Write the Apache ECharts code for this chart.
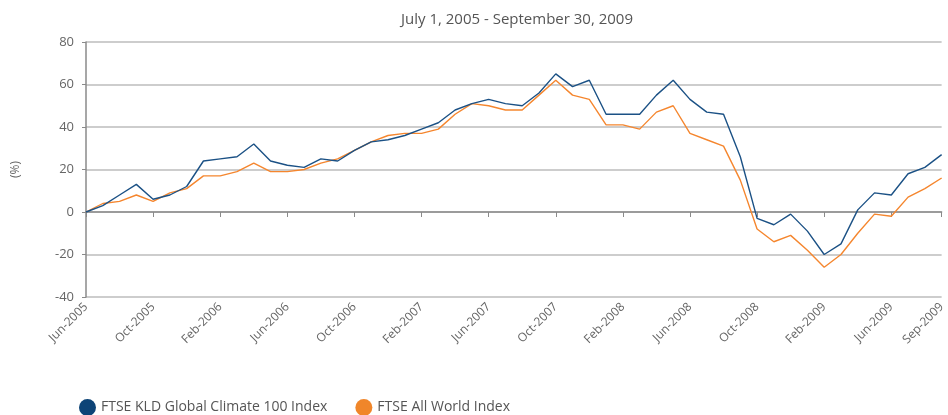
<!DOCTYPE html>
<html>
<head>
<meta charset="utf-8">
<script src="https://cdn.jsdelivr.net/npm/echarts@6/dist/echarts.min.js"></script>
<style>
  html, body { margin: 0; padding: 0; background: #fff; }
  #chart { width: 948px; height: 415px; }
</style>
</head>
<body>
<div id="chart"></div>
<script>
// Monthly cumulative returns (%), Jun-2005 to Sep-2009
const months = [
  'Jun-2005','Jul-2005','Aug-2005','Sep-2005','Oct-2005','Nov-2005','Dec-2005',
  'Jan-2006','Feb-2006','Mar-2006','Apr-2006','May-2006','Jun-2006','Jul-2006',
  'Aug-2006','Sep-2006','Oct-2006','Nov-2006','Dec-2006','Jan-2007','Feb-2007',
  'Mar-2007','Apr-2007','May-2007','Jun-2007','Jul-2007','Aug-2007','Sep-2007',
  'Oct-2007','Nov-2007','Dec-2007','Jan-2008','Feb-2008','Mar-2008','Apr-2008',
  'May-2008','Jun-2008','Jul-2008','Aug-2008','Sep-2008','Oct-2008','Nov-2008',
  'Dec-2008','Jan-2009','Feb-2009','Mar-2009','Apr-2009','May-2009','Jun-2009',
  'Jul-2009','Aug-2009','Sep-2009'
];

const climate100 = [
  0, 3, 8, 13, 6, 8, 12, 24, 25, 26, 32, 24, 22, 21, 25, 24, 29, 33, 34, 36,
  39, 42, 48, 51, 53, 51, 50, 56, 65, 59, 62, 46, 46, 46, 55, 62, 53, 47, 46, 26,
  -3, -6, -1, -9, -20, -15, 1, 9, 8, 18, 21, 27
];

const allWorld = [
  0, 4, 5, 8, 5, 9, 11, 17, 17, 19, 23, 19, 19, 20, 23, 25, 29, 33, 36, 37,
  37, 39, 46, 51, 50, 48, 48, 55, 62, 55, 53, 41, 41, 39, 47, 50, 37, 34, 31, 15,
  -8, -14, -11, -18, -26, -20, -10, -1, -2, 7, 11, 16
];

const seriesNames = ['FTSE KLD Global Climate 100 Index', 'FTSE All World Index'];
const titleText = 'July 1, 2005 - September 30, 2009';
const yAxisName = '(%)';

const FONT = '"Open Sans", "Noto Sans", sans-serif';
const lastIdx = months.length - 1;
const showTick = (i) => i % 4 === 0 || i === lastIdx;

const chart = echarts.init(document.getElementById('chart'), null, { renderer: 'canvas' });
chart.setOption({
  animation: false,
  backgroundColor: '#ffffff',
  title: {
    text: titleText,
    left: 512,
    textAlign: 'center',
    top: 7,
    textStyle: { fontFamily: FONT, fontSize: 15, fontWeight: 'normal', color: '#555' }
  },
  legend: {
    left: 74,
    top: 394,
    icon: 'circle',
    itemWidth: 17,
    itemHeight: 17,
    itemGap: 28,
    textStyle: { fontFamily: FONT, fontSize: 14, color: '#555' },
    data: seriesNames
  },
  grid: { left: 86, right: 4, top: 42, bottom: 118, containLabel: false },
  xAxis: {
    type: 'category',
    data: months,
    boundaryGap: false,
    axisLine: { lineStyle: { color: '#8a8a8a', width: 1.5 } },
    axisTick: { interval: (i) => showTick(i), length: 5, lineStyle: { color: '#8a8a8a' } },
    axisLabel: {
      interval: (i) => showTick(i),
      rotate: 45,
      margin: 8,
      fontFamily: FONT,
      fontSize: 12,
      color: '#666'
    },
    splitLine: { show: false }
  },
  yAxis: {
    type: 'value',
    min: -40,
    max: 80,
    interval: 20,
    name: yAxisName,
    nameLocation: 'middle',
    nameRotate: 90,
    nameGap: 64,
    nameTextStyle: { fontFamily: FONT, fontSize: 12, color: '#666' },
    axisLine: { show: true, lineStyle: { color: '#8a8a8a', width: 1.5 } },
    axisTick: { show: true, length: 4, lineStyle: { color: '#8a8a8a' } },
    axisLabel: { fontFamily: FONT, fontSize: 13, color: '#666', margin: 12 },
    splitLine: { lineStyle: { color: '#bdbdbd', width: 1.5 } }
  },
  series: [
    {
      name: seriesNames[0],
      type: 'line',
      data: climate100,
      symbol: 'none',
      color: '#0d4477',
      lineStyle: { width: 1.4, color: '#1b5185' },
      z: 3
    },
    {
      name: seriesNames[1],
      type: 'line',
      data: allWorld,
      symbol: 'none',
      color: '#f0862a',
      lineStyle: { width: 1.4, color: '#f5862e' },
      z: 2
    }
  ]
});
</script>
</body>
</html>
